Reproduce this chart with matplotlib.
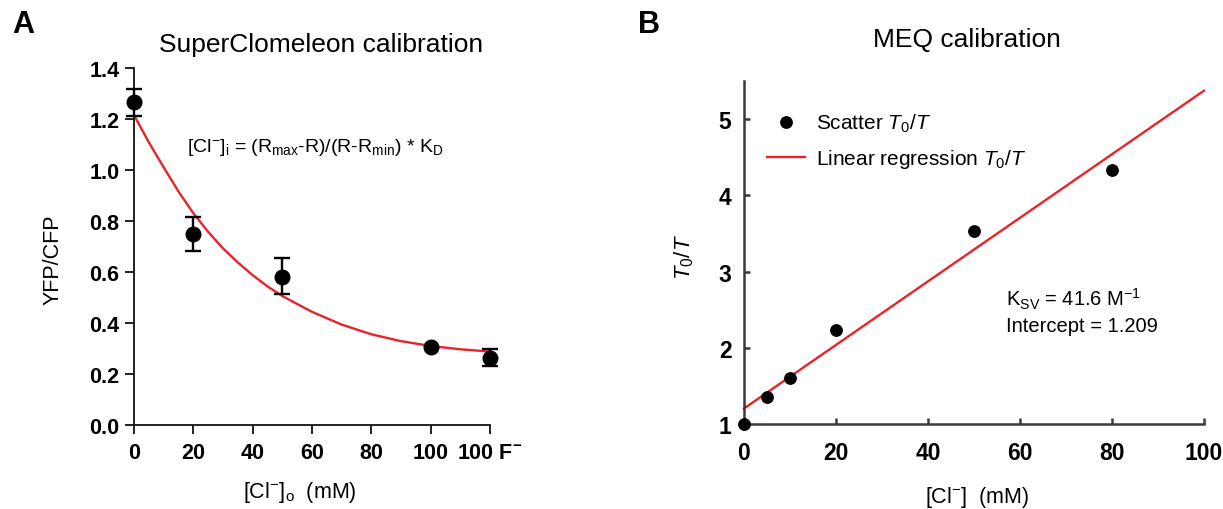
import matplotlib
matplotlib.use("Agg")
import matplotlib.pyplot as plt
from matplotlib.lines import Line2D

plt.rcParams['font.family'] = ['Liberation Sans', 'DejaVu Sans']
plt.rcParams['mathtext.fontset'] = 'custom'
plt.rcParams['mathtext.rm'] = 'Liberation Sans'
plt.rcParams['mathtext.it'] = 'Liberation Sans:italic'
plt.rcParams['mathtext.bf'] = 'Liberation Sans:bold'

# ---------------- Panel A data ----------------
# x position 120 stands for the "100 F-" condition
a_x = [0, 20, 50, 100, 120]
a_y = [1.265, 0.748, 0.581, 0.304, 0.262]
# error at 100 mM is hidden behind the marker in the original (nan = not drawn)
a_err_low = [0.052, 0.065, 0.069, float('nan'), 0.033]
a_err_high = [0.052, 0.066, 0.072, float('nan'), 0.035]
a_fit_x = [0, 5, 10, 15, 20, 25, 30, 35, 40, 45, 50, 60, 70, 80, 90, 100, 110, 120]
a_fit_y = [1.215, 1.108, 1.010, 0.915, 0.830, 0.757, 0.692, 0.637, 0.587, 0.543,
           0.505, 0.443, 0.393, 0.355, 0.328, 0.309, 0.296, 0.287]
a_xticks = [0, 20, 40, 60, 80, 100, 120]
a_xticklabels = ['0', '20', '40', '60', '80', '100', r'100 F$^{\mathbf{-}}$']
a_yticks = [0.0, 0.2, 0.4, 0.6, 0.8, 1.0, 1.2, 1.4]

# ---------------- Panel B data ----------------
b_x = [0, 5, 10, 20, 50, 80]
b_y = [1.0, 1.356, 1.609, 2.237, 3.529, 4.33]
b_line_x = [0, 100]
b_line_y = [1.209, 5.369]
b_xticks = [0, 20, 40, 60, 80, 100]
b_yticks = [1, 2, 3, 4, 5]

RED = '#e8232a'

fig = plt.figure(figsize=(12.23, 5.10), dpi=100)

# ---------------- Panel A ----------------
axA = fig.add_axes([0.1096, 0.1653, 0.2909, 0.6994])
axA.plot(a_fit_x, a_fit_y, color=RED, lw=1.7, zorder=2,
         solid_joinstyle='round')
axA.errorbar(a_x, a_y, yerr=[a_err_low, a_err_high], fmt='o', color='black',
             ms=10.5, elinewidth=1.7, capsize=5.5, capthick=1.7, zorder=3,
             clip_on=False)
axA.set_xlim(0, 120)
axA.set_ylim(0, 1.4)
axA.set_xticks(a_xticks)
axA.set_xticklabels(a_xticklabels)
axA.set_yticks(a_yticks)
axA.set_yticklabels([f'{v:.1f}' for v in a_yticks])
for s in ['top', 'right']:
    axA.spines[s].set_visible(False)
for s in ['left', 'bottom']:
    axA.spines[s].set_linewidth(1.3)
    axA.spines[s].set_color('#111111')
axA.tick_params(axis='both', direction='out', length=6.5, width=1.3,
                color='#111111', labelsize=15.5)
axA.tick_params(axis='x', pad=6)
axA.tick_params(axis='y', pad=4)
for lab in axA.get_xticklabels() + axA.get_yticklabels():
    lab.set_fontweight('bold')
axA.text(0.5256, 1.067, 'SuperClomeleon calibration', transform=axA.transAxes,
         ha='center', va='center', fontsize=19)
axA.text(-0.2277, 0.4645, 'YFP/CFP', transform=axA.transAxes, rotation=90,
         ha='center', va='center', fontsize=15.5)
axA.text(0.4666, -0.188, r'[Cl$^{-}$]$_{\mathrm{o}}$  (mM)', transform=axA.transAxes,
         ha='center', va='center', fontsize=15.5)
axA.text(0.148, 0.768,
         r'[Cl$^{-}$]$_{\mathrm{i}}$ = (R$_{\mathrm{max}}$-R)/(R-R$_{\mathrm{min}}$) * K$_{\mathrm{D}}$',
         transform=axA.transAxes, ha='left', va='baseline', fontsize=14)

# ---------------- Panel B ----------------
axB = fig.add_axes([0.6083, 0.1657, 0.3761, 0.6741])
axB.plot(b_line_x, b_line_y, color=RED, lw=1.7, zorder=2, clip_on=False)
axB.plot(b_x, b_y, 'o', color='black', ms=8.2, zorder=3, clip_on=False)
axB.set_xlim(0, 100)
axB.set_ylim(1, 5.5)
axB.set_xticks(b_xticks)
axB.set_yticks(b_yticks)
for s in ['top', 'right']:
    axB.spines[s].set_visible(False)
for s in ['left', 'bottom']:
    axB.spines[s].set_linewidth(1.8)
    axB.spines[s].set_color('#3a3a3a')
axB.tick_params(axis='both', direction='in', length=4.5, width=1.8,
                color='#3a3a3a', labelsize=16.5)
axB.tick_params(axis='x', pad=12)
axB.tick_params(axis='y', pad=9)
for lab in axB.get_xticklabels() + axB.get_yticklabels():
    lab.set_fontweight('bold')
axB.text(0.485, 1.121, 'MEQ calibration', transform=axB.transAxes,
         ha='center', va='center', fontsize=19)
axB.text(-0.129, 0.49, r'$\mathit{T_{0}/T}$', transform=axB.transAxes, rotation=90,
         ha='center', va='center', fontsize=16)
axB.text(0.5065, -0.208, r'[Cl$^{-}$]  (mM)', transform=axB.transAxes,
         ha='center', va='center', fontsize=15.5)
axB.text(0.570, 0.3455, r'K$_{\mathrm{SV}}$ = 41.6 M$^{\mathrm{-1}}$', transform=axB.transAxes,
         ha='left', va='baseline', fontsize=14.5)
axB.text(0.570, 0.2728, 'Intercept = 1.209', transform=axB.transAxes,
         ha='left', va='baseline', fontsize=14.5)

handles = [Line2D([], [], marker='o', ls='none', color='black', ms=8.2),
           Line2D([], [], color=RED, lw=1.7)]
labels = [r'Scatter $\mathit{T_{0}/T}$', r'Linear regression $\mathit{T_{0}/T}$']
axB.legend(handles, labels, loc='upper left', bbox_to_anchor=(0.0507, 0.909),
           frameon=False, fontsize=15, borderpad=0, borderaxespad=0,
           handlelength=1.83, handletextpad=0.5, labelspacing=0.62)

# panel letters
fig.text(0.0104, 0.9347, 'A', fontsize=22, fontweight='bold', ha='left', va='baseline')
fig.text(0.5217, 0.9347, 'B', fontsize=22, fontweight='bold', ha='left', va='baseline')

fig.savefig('out.png', dpi=100)
